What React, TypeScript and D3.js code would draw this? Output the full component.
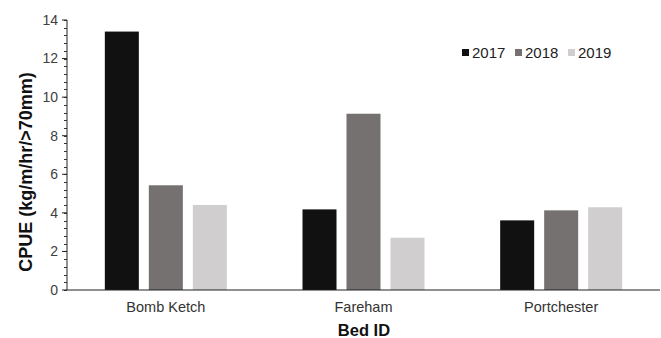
import React from "react";
import * as d3 from "d3";

const categories = ["Bomb Ketch", "Fareham", "Portchester"];
const years = ["2017", "2018", "2019"];
const values2017 = [13.4, 4.18, 3.61];
const values2018 = [5.43, 9.14, 4.13];
const values2019 = [4.41, 2.71, 4.29];
const yTicks = [0, 2, 4, 6, 8, 10, 12, 14];
const colors = ["#111111", "#767171", "#d0cece"];

const W = 661;
const H = 338;
const M = { left: 67, right: 1, top: 20, bottom: 48 };

export default function App() {
  const series = [values2017, values2018, values2019];
  const x = d3.scaleBand<string>().domain(categories).range([M.left, 660]).paddingInner(0).paddingOuter(0);
  const x1 = d3.scaleBand<string>().domain(years).range([0, x.bandwidth()]).paddingInner(0.227).paddingOuter(0.86);
  const y = d3.scaleLinear().domain([0, 14]).range([290, 20]);
  const minor = d3.range(0, 14.0001, 0.4);
  const font = "Arial, 'Liberation Sans', sans-serif";
  const legendX = [462, 515, 568];
  return (
    <svg width={W} height={H} style={{ position: "absolute", left: 0, top: 0, background: "#fff" }}>
      {categories.map((c, i) =>
        years.map((yr, j) => (
          <rect
            key={c + yr}
            x={(x(c) as number) + (x1(yr) as number)}
            y={y(series[j][i])}
            width={x1.bandwidth()}
            height={y(0) - y(series[j][i])}
            fill={colors[j]}
          />
        ))
      )}
      <line x1={M.left} x2={M.left} y1={y(14)} y2={y(0)} stroke="#222" strokeWidth={1} />
      <line x1={M.left} x2={660} y1={y(0)} y2={y(0)} stroke="#222" strokeWidth={1.2} />
      {minor.map((t) => (
        <line key={"m" + t} x1={M.left - 3} x2={M.left} y1={Math.round(y(t)) + 0.5} y2={Math.round(y(t)) + 0.5} stroke="#333" strokeWidth={1} />
      ))}
      {yTicks.map((t) => (
        <g key={t}>
          <line x1={M.left - 5} x2={M.left} y1={y(t)} y2={y(t)} stroke="#222" strokeWidth={1} />
          <text x={M.left - 9} y={y(t)} dy="0.35em" textAnchor="end" fontFamily={font} fontSize={14} fill="#404040">
            {t}
          </text>
        </g>
      ))}
      {categories.map((c) => (
        <text key={c} x={(x(c) as number) + x.bandwidth() / 2} y={312} textAnchor="middle" fontFamily={font} fontSize={14.5} fill="#333">
          {c}
        </text>
      ))}
      <text x={364} y={336} textAnchor="middle" fontFamily={font} fontSize={16.5} fontWeight="bold" fill="#111">
        Bed ID
      </text>
      <text
        transform={`translate(32,172) rotate(-90)`}
        textAnchor="middle"
        fontFamily={font}
        fontSize={18}
        fontWeight="bold"
        fill="#111"
      >
        CPUE (kg/m/hr/&gt;70mm)
      </text>
      {years.map((yr, j) => (
        <g key={yr}>
          <rect x={legendX[j]} y={49} width={7} height={7} fill={colors[j]} />
          <text x={legendX[j] + 10} y={52.5} dy="0.35em" fontFamily={font} fontSize={15} fill="#222">
            {yr}
          </text>
        </g>
      ))}
    </svg>
  );
}
